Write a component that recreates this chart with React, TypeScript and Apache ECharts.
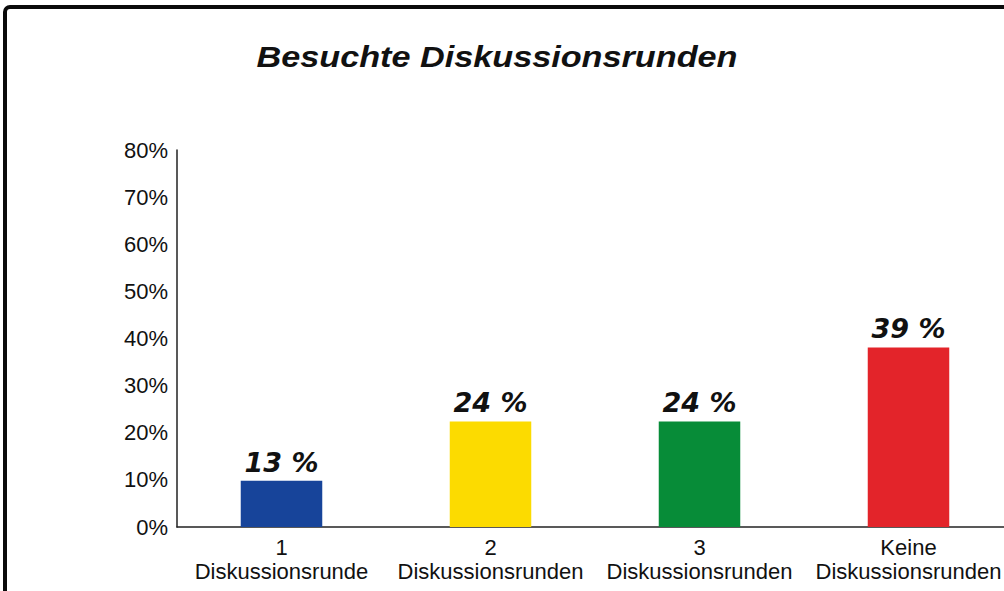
import React, { useEffect, useRef } from "react";
import * as echarts from "echarts";

const titleText = "Besuchte Diskussionsrunden";
const categories = [
  "1\nDiskussionsrunde",
  "2\nDiskussionsrunden",
  "3\nDiskussionsrunden",
  "Keine\nDiskussionsrunden",
];
// bar heights as drawn in the picture (percent)
const barValues = [9.8, 22.4, 22.4, 38.1];
// printed value labels above the bars
const valueLabels = ["13 %", "24 %", "24 %", "39 %"];
const barColors = ["#17449a", "#fcdb00", "#078c38", "#e3242a"];
const yMin = 0;
const yMax = 80;
const yInterval = 10;

export default function App() {
  const ref = useRef<HTMLDivElement>(null);

  useEffect(() => {
    if (!ref.current) return;
    const chart = echarts.init(ref.current, undefined, { renderer: "svg" });
    const font = "'Liberation Sans', Arial, Helvetica, sans-serif";
    chart.setOption({
      animation: false,
      backgroundColor: "#ffffff",
      graphic: [
        {
          type: "rect",
          shape: { x: 5, y: 7, width: 1200, height: 800, r: 5 },
          style: { fill: "none", stroke: "#0a0a0a", lineWidth: 4 },
          silent: true,
        },
        {
          type: "text",
          x: 497,
          y: 57,
          scaleX: 1.18,
          style: {
            text: titleText,
            fill: "#111111",
            font: "italic bold 29px " + font,
            textAlign: "center",
            textVerticalAlign: "middle",
          },
        },
      ],
      grid: { left: 177, top: 150, width: 836, bottom: 64, containLabel: false },
      xAxis: {
        type: "category",
        data: categories,
        axisLine: { show: true, lineStyle: { color: "#222222", width: 1.5 } },
        axisTick: { show: false },
        axisLabel: {
          interval: 0,
          color: "#111111",
          fontFamily: font,
          fontSize: 22,
          lineHeight: 24,
          margin: 8,
          align: "center",
        },
      },
      yAxis: {
        type: "value",
        min: yMin,
        max: yMax,
        interval: yInterval,
        axisLine: { show: true, lineStyle: { color: "#222222", width: 1.5 } },
        axisTick: { show: false },
        splitLine: { show: false },
        axisLabel: {
          formatter: "{value}%",
          color: "#111111",
          fontFamily: font,
          fontSize: 22,
          margin: 9,
        },
      },
      series: [
        {
          type: "bar",
          barWidth: "39%",
          data: barValues.map((v, i) => ({
            value: v,
            itemStyle: { color: barColors[i] },
          })),
          label: {
            show: true,
            position: "top",
            distance: 5,
            formatter: (p: any) => valueLabels[p.dataIndex],
            color: "#111111",
            fontFamily: "'DejaVu Sans', sans-serif",
            fontSize: 27,
            fontWeight: "bold",
            fontStyle: "italic",
          },
        },
      ],
    });
    return () => chart.dispose();
  }, []);

  return (
    <div
      style={{
        position: "absolute",
        left: 0,
        top: 0,
        width: 1004,
        height: 591,
        overflow: "hidden",
      }}
    >
      <div ref={ref} style={{ width: 1030, height: 591 }} />
    </div>
  );
}
